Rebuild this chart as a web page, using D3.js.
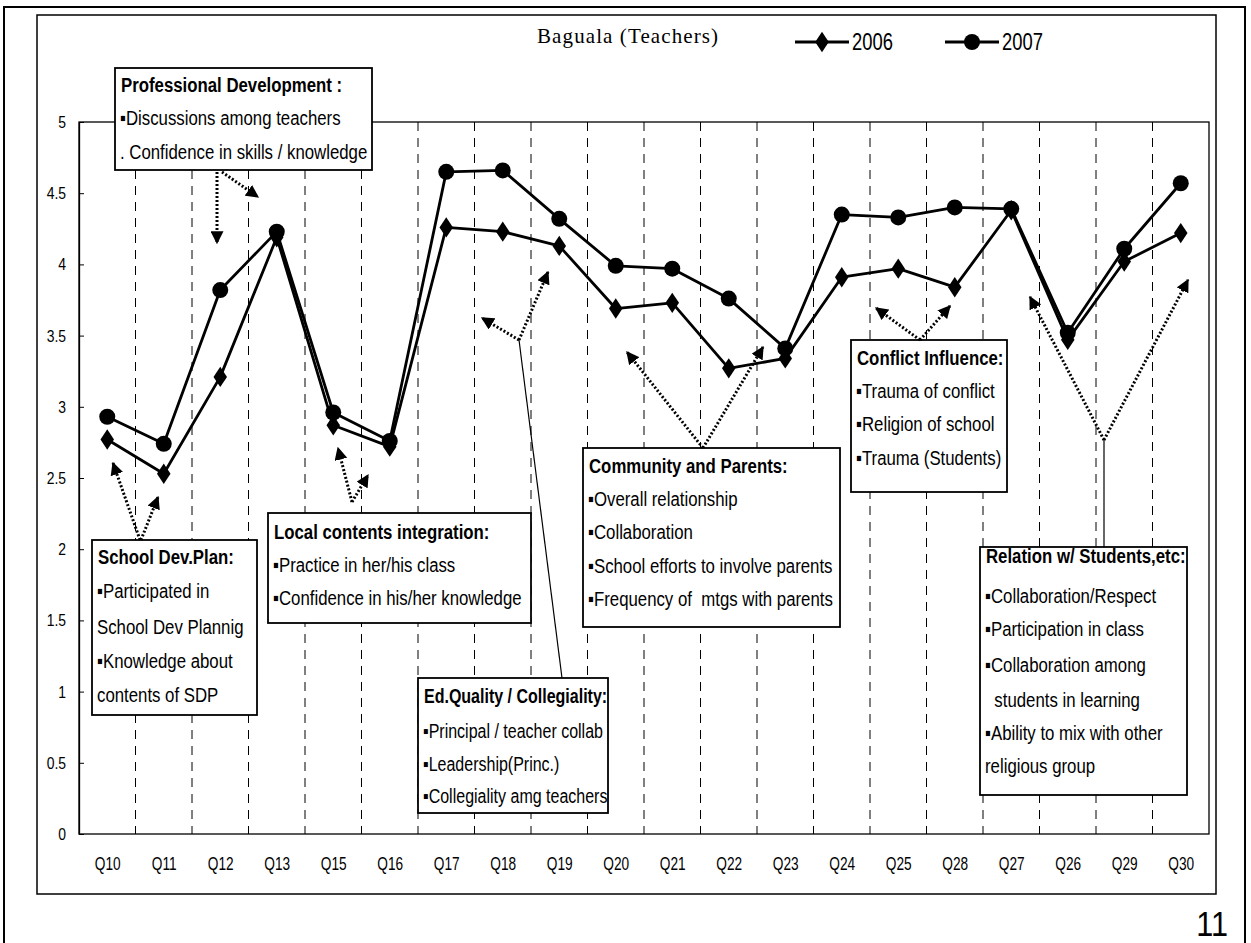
<!DOCTYPE html>
<html><head><meta charset="utf-8">
<script src="https://cdn.jsdelivr.net/npm/d3@7"></script>
<style>
body{margin:0;background:#fff;}
svg{display:block;}
</style></head>
<body>
<svg id="chart" width="1251" height="943"></svg>
<script>
// ---------- data ----------
const categories = ["Q10","Q11","Q12","Q13","Q15","Q16","Q17","Q18","Q19","Q20","Q21","Q22","Q23","Q24","Q25","Q28","Q27","Q26","Q29","Q30"];
const values2006 = [2.77,2.53,3.21,4.19,2.87,2.72,4.26,4.23,4.13,3.69,3.73,3.27,3.34,3.91,3.97,3.84,4.38,3.47,4.02,4.22];
const values2007 = [2.93,2.74,3.82,4.23,2.96,2.76,4.65,4.66,4.32,3.99,3.97,3.76,3.41,4.35,4.33,4.40,4.39,3.52,4.11,4.57];
const yTicks = [0,0.5,1,1.5,2,2.5,3,3.5,4,4.5,5];
const seriesNames = ["2006","2007"];
const chartTitle = "Baguala (Teachers)";
const pageNumber = "11";

// annotation texts
const annotations = [
  {title:"Professional Development :", lines:["▪Discussions among teachers",". Confidence in skills / knowledge"]},
  {title:"School Dev.Plan:", lines:["▪Participated in","School Dev Plannig","▪Knowledge about","contents of SDP"]},
  {title:"Local contents integration:", lines:["▪Practice in her/his class","▪Confidence in his/her knowledge"]},
  {title:"Ed.Quality / Collegiality:", lines:["▪Principal / teacher collab","▪Leadership(Princ.)","▪Collegiality amg teachers"]},
  {title:"Community and Parents:", lines:["▪Overall relationship","▪Collaboration","▪School efforts to involve parents","▪Frequency of  mtgs with parents"]},
  {title:"Conflict Influence:", lines:["▪Trauma of conflict","▪Religion of school","▪Trauma (Students)"]},
  {title:"Relation w/ Students,etc:", lines:["▪Collaboration/Respect","▪Participation in class","▪Collaboration among","  students in learning","▪Ability to mix with other","religious group"]}
];

const SANS = "'Liberation Sans',Arial,sans-serif";
function narrowText(g, x, y, str, size, opts={}){
  const sx = opts.sx || 0.8;
  return g.append("text")
    .attr("transform",`translate(${x},${y}) scale(${sx},1)`)
    .attr("font-family",SANS).attr("font-size",size)
    .attr("font-weight",opts.bold?"bold":"normal")
    .attr("text-anchor",opts.anchor||"start")
    .style("white-space","pre").text(str);
}

// ---------- layout ----------
const svg = d3.select("#chart");
svg.append("rect").attr("width",1251).attr("height",943).attr("fill","#fff");

svg.append("rect").attr("x",4).attr("y",7).attr("width",1241).attr("height",960)
  .attr("fill","none").attr("stroke","#000").attr("stroke-width",2);
svg.append("rect").attr("x",37).attr("y",15).attr("width",1179).attr("height",879)
  .attr("fill","none").attr("stroke","#000").attr("stroke-width",1.5);

const plot = {left:79, right:1209, top:122, bottom:834};
const x = d3.scalePoint().domain(categories).range([plot.left,plot.right]).padding(0.5);
const y = d3.scaleLinear().domain([0,5]).range([plot.bottom,plot.top]);
const step = x.step();

svg.append("rect").attr("x",plot.left).attr("y",plot.top)
  .attr("width",plot.right-plot.left).attr("height",plot.bottom-plot.top)
  .attr("fill","none").attr("stroke","#000").attr("stroke-width",1.3);

// dashed vertical separators
svg.append("g").selectAll("line").data(categories.slice(0,-1)).join("line")
  .attr("x1",d=>x(d)+step/2).attr("x2",d=>x(d)+step/2)
  .attr("y1",plot.top).attr("y2",plot.bottom)
  .attr("stroke","#000").attr("stroke-width",1).attr("stroke-dasharray","9,7");

// y axis
const yAxis = d3.axisLeft(y).tickValues(yTicks).tickSizeInner(-5).tickSizeOuter(0).tickPadding(12)
  .tickFormat(d=>String(d));
const gy = svg.append("g").attr("transform",`translate(${plot.left},0)`).call(yAxis);
gy.select(".domain").attr("stroke","#000").attr("stroke-width",1.3);
gy.selectAll(".tick line").attr("stroke","#000");
gy.selectAll("text").attr("x",0).attr("transform","translate(-13,0) scale(0.82,1)")
  .attr("font-family",SANS).attr("font-size",17).attr("fill","#000");

// x axis labels
const xAxis = d3.axisBottom(x).tickSize(0).tickPadding(23);
const gx = svg.append("g").attr("transform",`translate(0,${plot.bottom})`).call(xAxis);
gx.select(".domain").remove();
gx.selectAll("text").attr("transform","scale(0.76,1)")
  .attr("font-family",SANS).attr("font-size",18).attr("fill","#000");

// lines
const line = d3.line().x((d,i)=>x(categories[i])).y(d=>y(d));
[values2006, values2007].forEach(vals=>{
  svg.append("path").datum(vals).attr("d",line)
    .attr("fill","none").attr("stroke","#000").attr("stroke-width",2.8).attr("stroke-linejoin","round");
});
const diamond = d3.symbol().type(d3.symbolDiamond).size(120);
svg.append("g").selectAll("path").data(values2006).join("path")
  .attr("d",diamond)
  .attr("transform",(d,i)=>`translate(${x(categories[i])},${y(d)}) scale(1.15,1)`)
  .attr("fill","#000");
svg.append("g").selectAll("circle").data(values2007).join("circle")
  .attr("cx",(d,i)=>x(categories[i])).attr("cy",d=>y(d)).attr("r",8).attr("fill","#000");

// title
svg.append("text").attr("x",537).attr("y",43)
  .attr("font-family","'Liberation Serif','Times New Roman',serif").attr("font-size",21)
  .attr("letter-spacing",1.1).text(chartTitle);

// legend
const legX = [795, 945];
seriesNames.forEach((n,i)=>{
  const g = svg.append("g").attr("transform",`translate(${legX[i]},42)`);
  g.append("line").attr("x1",0).attr("x2",54).attr("stroke","#000").attr("stroke-width",3);
  if(i===0) g.append("path").attr("d",diamond).attr("transform","translate(27,0) scale(1.15,1)");
  else g.append("circle").attr("cx",27).attr("r",8);
  narrowText(g, 57, 8, n, 23, {sx:0.8});
});

// ---------- annotations (boxes) ----------
const boxLayout = [
  {x:115,y:68,w:257,h:102, ty:92, ly:[125,159], fs:21},
  {x:92,y:540,w:165,h:175, ty:564, ly:[598,634,668,702], fs:21},
  {x:268,y:513,w:263,h:110, ty:539, ly:[572,605], fs:21},
  {x:418,y:678,w:190,h:135, ty:703, ly:[738,771,803], fs:20},
  {x:583,y:448,w:257,h:179, ty:473, ly:[506,539,573,606], fs:21},
  {x:851,y:340,w:156,h:152, ty:365, ly:[398,431,465], fs:21},
  {x:980,y:547,w:207,h:248, ty:563, ly:[603,636,672,707,740,773], fs:21}
];
annotations.forEach((a,i)=>{
  const b = boxLayout[i];
  const g = svg.append("g");
  g.append("rect").attr("x",b.x).attr("y",b.y).attr("width",b.w).attr("height",b.h)
    .attr("fill","#fff").attr("stroke","#000").attr("stroke-width",1.8);
  narrowText(g, b.x+6, b.ty, a.title, b.fs, {bold:true});
  a.lines.forEach((l,j)=> narrowText(g, b.x+5, b.ly[j], l, b.fs));
});

// ---------- arrows ----------
const defs = svg.append("defs");
defs.append("marker").attr("id","ah").attr("viewBox","0 0 10 10").attr("refX",9).attr("refY",5)
  .attr("markerWidth",13).attr("markerHeight",13).attr("markerUnits","userSpaceOnUse").attr("orient","auto")
  .append("path").attr("d","M0,0 L10,5 L0,10 Z").attr("fill","#000");
const arrows = [
  [217,172,217,243],[222,172,258,197],
  [140,540,113,463],[141,540,158,497],
  [352,502,338,448],[352,502,368,475],
  [519,340,482,318],[519,340,548,272],
  [703,448,627,352],[703,448,763,347],
  [920,340,876,308],[920,340,950,306],
  [1104,440,1030,297],[1104,440,1188,280]
];
svg.append("g").selectAll("line").data(arrows).join("line")
  .attr("x1",d=>d[0]).attr("y1",d=>d[1]).attr("x2",d=>d[2]).attr("y2",d=>d[3])
  .attr("stroke","#000").attr("stroke-width",3).attr("stroke-dasharray","2,2")
  .attr("marker-end","url(#ah)");
const solid = [[519,340,562,678],[1104,440,1104,547]];
svg.append("g").selectAll("line").data(solid).join("line")
  .attr("x1",d=>d[0]).attr("y1",d=>d[1]).attr("x2",d=>d[2]).attr("y2",d=>d[3])
  .attr("stroke","#000").attr("stroke-width",1.2);

// page number
narrowText(svg, 1228, 936, pageNumber, 36, {sx:0.85, anchor:"end"});
</script>
</body></html>
